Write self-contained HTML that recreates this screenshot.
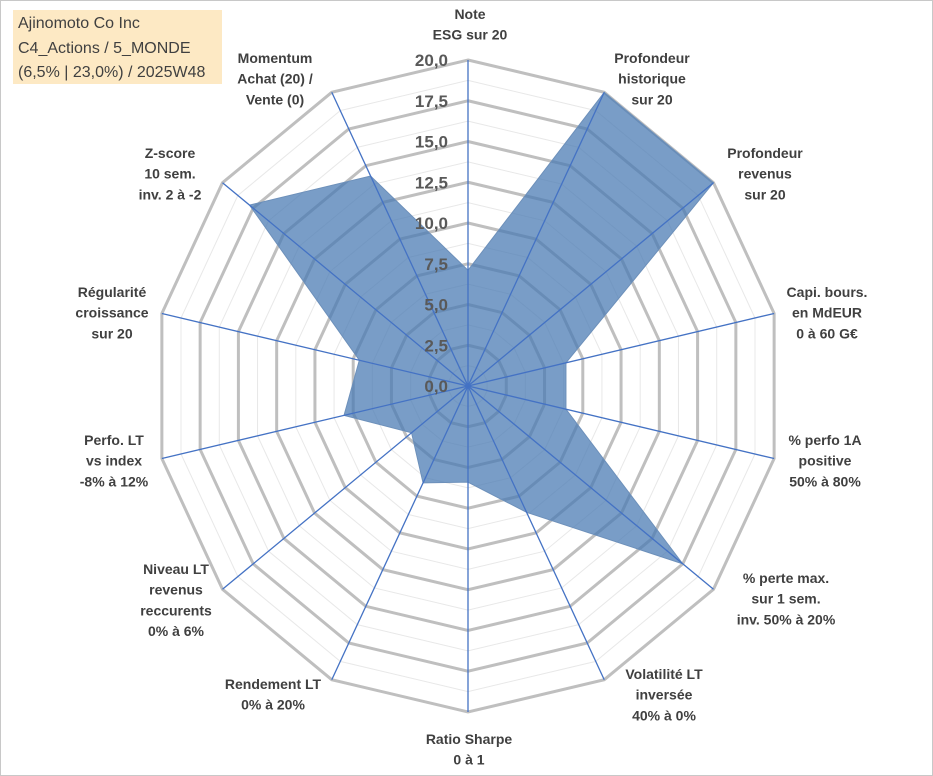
<!DOCTYPE html>
<html><head><meta charset="utf-8"><style>
html,body{margin:0;padding:0;background:#fff;}
#wrap{position:relative;width:933px;height:776px;overflow:hidden;font-family:"Liberation Sans",sans-serif;}
#frame{position:absolute;left:0;top:0;width:931px;height:774px;border:1px solid #c8c8c8;}
#title{position:absolute;left:13px;top:10px;width:209px;height:74px;background:#fde9c4;color:#404040;font-size:16px;line-height:24.5px;padding:2px 0 0 5px;box-sizing:border-box;}
svg{position:absolute;left:0;top:0;}
</style></head><body>
<div id="wrap">
<div id="frame"></div>
<div id="title">Ajinomoto Co Inc<br>C4_Actions / 5_MONDE<br>(6,5% | 23,0%) / 2025W48</div>
<svg id="chart" width="933" height="776"></svg>
</div>
<script>
const categories = [
 ["Note","ESG sur 20"],
 ["Profondeur","historique","sur 20"],
 ["Profondeur","revenus","sur 20"],
 ["Capi. bours.","en MdEUR","0 à 60 G€"],
 ["% perfo 1A","positive","50% à 80%"],
 ["% perte max.","sur 1 sem.","inv. 50% à 20%"],
 ["Volatilité LT","inversée","40% à 0%"],
 ["Ratio Sharpe","0 à 1"],
 ["Rendement LT","0% à 20%"],
 ["Niveau LT","revenus","reccurents","0% à 6%"],
 ["Perfo. LT","vs index","-8% à 12%"],
 ["Régularité","croissance","sur 20"],
 ["Z-score","10 sem.","inv. 2 à -2"],
 ["Momentum","Achat (20) /","Vente (0)"]
];
const values = [7.1, 20, 20, 6.4, 6.4, 17.5, 8.6, 5.9, 6.6, 4.6, 8.1, 7.1, 17.8, 14.3];
const tickValues = [0, 2.5, 5, 7.5, 10, 12.5, 15, 17.5, 20];
const tickLabels = ["0,0","2,5","5,0","7,5","10,0","12,5","15,0","17,5","20,0"];
const labelCenters = [[470,14],[652,58],[765,153],[827,292],[825,440],[786,578],[664,674],[469,739],[273,684],[176,569],[114,440],[112,292],[170,153],[275,58]];

const NS="http://www.w3.org/2000/svg";
const svg=document.getElementById('chart');
const cx=468, cy=386, Rx=314, Ry=326, maxV=20;
const n=categories.length;
function ang(i){return -Math.PI/2 + i*2*Math.PI/n;}
function pt(i,v){const f=v/maxV;return [cx+f*Rx*Math.cos(ang(i)), cy+f*Ry*Math.sin(ang(i))];}
function mk(tag,attrs){const e=document.createElementNS(NS,tag);for(const k in attrs)e.setAttribute(k,attrs[k]);svg.appendChild(e);return e;}
function ringPts(v){let s=[];for(let i=0;i<n;i++){s.push(pt(i,v).join(','));}return s.join(' ');}
for(let k=0;k<tickValues.length-1;k++){
  const v=(tickValues[k]+tickValues[k+1])/2;
  const e=mk('polygon',{points:ringPts(v),fill:'none',stroke:'#e8e8e8','stroke-width':1});
  
  
}
tickValues.forEach(v=>{
  if(v===0)return;
  const e=mk('polygon',{points:ringPts(v),fill:'none',stroke:'#bfbfbf','stroke-width':3});
  
  
});
let dp=values.map((v,i)=>pt(i,v).join(',')).join(' ');
const poly=mk('polygon',{points:dp,fill:'#4a7bb3','fill-opacity':0.74,stroke:'#6d90ba','stroke-width':1});


for(let i=0;i<n;i++){
  const p=pt(i,maxV);
  const e=mk('line',{x1:cx,y1:cy,x2:p[0],y2:p[1],stroke:'#4472c4','stroke-width':1.3});
  
  
}
tickValues.forEach((v,k)=>{
  const y=cy - v/maxV*Ry;
  const t=mk('text',{x:448,y:y+6,'text-anchor':'end','font-size':17,'font-weight':'bold',fill:'#595959','font-family':'Liberation Sans, sans-serif'});
  t.textContent=tickLabels[k];
  
  
});
categories.forEach((lines,i)=>{
  const [x,y0]=labelCenters[i];
  const t=mk('text',{'text-anchor':'middle','font-size':14,'font-weight':'bold',fill:'#404040','font-family':'Liberation Sans, sans-serif'});
  
  
  lines.forEach((ln,j)=>{
    const ts=document.createElementNS(NS,'tspan');
    ts.setAttribute('x',x);ts.setAttribute('y',y0+5+j*20.7);
    ts.textContent=ln;t.appendChild(ts);
  });
});
</script>
</body></html>
